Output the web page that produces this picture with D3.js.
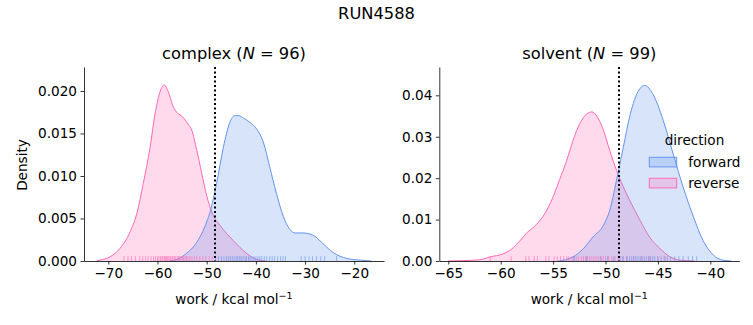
<!DOCTYPE html>
<html><head><meta charset="utf-8">
<script src="https://cdn.jsdelivr.net/npm/d3@7"></script>
<style>
body{margin:0;background:#fff;}
svg{display:block;font-family:"DejaVu Sans",sans-serif;}
</style></head>
<body><svg id="c" width="753" height="325"></svg>
<script>
// ---- data ----
const suptitle = "RUN4588";
const panels = ["complex", "solvent"];
const panelN = [96, 99];
const directions = ["forward", "reverse"];
const colors = ["cornflowerblue", "hotpink"];
const freeEnergy = [-48.37, -48.73];

const complexXTicks = [-70, -60, -50, -40, -30, -20];
const complexYTicks = [0, 0.005, 0.010, 0.015, 0.020];
const solventXTicks = [-65, -60, -55, -50, -45, -40];
const solventYTicks = [0, 0.01, 0.02, 0.03, 0.04];

const complexReverseDensity = [[-72.4,0],[-71.7,0.0001],[-69.65,0.0005],[-67.6,0.0015],[-65.6,0.0034],[-64.2,0.0056],[-62.9,0.0091],[-61.5,0.0134],[-60.5,0.0173],[-59.6,0.0197],[-58.6,0.0207],[-57.8,0.0199],[-56.9,0.0183],[-56.1,0.0175],[-55.2,0.0171],[-54.5,0.0167],[-53.8,0.0161],[-53.05,0.0154],[-52.0,0.0130],[-51.0,0.0103],[-50.0,0.0077],[-48.7,0.0054],[-47.3,0.0042],[-44.6,0.0024],[-41.9,0.0009],[-39.9,0.0002],[-38.0,0]];
const complexForwardDensity = [[-57.5,0],[-56.0,0.0002],[-54.1,0.0009],[-52.5,0.0018],[-51.4,0.0028],[-50.2,0.0043],[-49.4,0.0056],[-48.0,0.0091],[-46.6,0.0134],[-45.3,0.0163],[-44.3,0.0171],[-43.5,0.0171],[-42.5,0.0168],[-41.2,0.0163],[-39.8,0.0155],[-38.5,0.0140],[-37.2,0.0111],[-35.8,0.0079],[-34.4,0.0052],[-33.2,0.0038],[-32.0,0.0033],[-30.4,0.0033],[-29.2,0.0032],[-28.0,0.0029],[-26.3,0.0020],[-24.3,0.0010],[-21.5,0.0003],[-18.8,0.0001],[-16.5,0]];
const solventReverseDensity = [[-65.0,0],[-63.5,0.0001],[-62.0,0.0003],[-61.0,0.0010],[-59.8,0.0017],[-59.0,0.0028],[-58.2,0.0048],[-57.5,0.0068],[-56.6,0.0088],[-55.8,0.0114],[-55.0,0.0155],[-54.4,0.0195],[-53.7,0.0243],[-53.1,0.0291],[-52.45,0.0332],[-51.8,0.0355],[-51.3,0.0360],[-50.9,0.0352],[-50.2,0.0316],[-49.6,0.0267],[-48.95,0.0219],[-48.3,0.0179],[-47.7,0.0147],[-46.7,0.0098],[-45.8,0.0058],[-44.8,0.0030],[-43.9,0.0011],[-42.9,0.0002],[-41.5,0]];
const solventForwardDensity = [[-54.5,0],[-53.1,0.0010],[-52.1,0.0030],[-51.2,0.0058],[-50.2,0.0086],[-49.6,0.0122],[-48.95,0.0195],[-48.3,0.0275],[-47.7,0.0348],[-47.0,0.0404],[-46.25,0.0424],[-45.5,0.0404],[-44.5,0.0340],[-43.55,0.0259],[-42.6,0.0179],[-41.6,0.0106],[-40.7,0.0050],[-39.7,0.0014],[-38.8,0.0002],[-38.0,0]];

const complexReverseWork = [-66.8,-66.0,-65.3,-64.5,-63.6,-63.0,-62.4,-61.9,-61.3,-60.8,-60.4,-60.0,-59.7,-59.4,-59.1,-58.9,-58.6,-58.4,-58.2,-58.0,-57.8,-57.5,-57.3,-57.0,-56.8,-56.5,-56.3,-56.0,-55.7,-55.5,-55.2,-55.0,-54.7,-54.4,-54.1,-53.8,-53.4,-53.0,-52.5,-52.0,-51.4,-50.8,-50.2,-49.5,-48.8];
const complexForwardWork = [-48.2,-47.6,-47.0,-46.5,-46.0,-45.6,-45.2,-44.8,-44.4,-44.0,-43.7,-43.3,-43.0,-42.6,-42.2,-41.9,-41.5,-41.2,-40.8,-40.4,-40.0,-39.6,-39.2,-38.8,-38.3,-37.8,-37.2,-36.7,-36.2,-35.6,-35.0,-34.5,-34.0,-30.8,-30.0,-29.2,-28.5,-27.7,-26.8,-26.0,-23.6];
const solventReverseWork = [-61.0,-59.0,-57.6,-57.3,-56.8,-56.5,-55.7,-55.4,-54.9,-54.6,-54.3,-54.0,-53.7,-53.5,-53.2,-53.0,-52.8,-52.6,-52.3,-52.1,-51.9,-51.7,-51.5,-51.3,-51.1,-50.9,-50.7,-50.4,-50.2,-50.0,-49.7,-49.4,-49.1,-48.8,-48.4,-47.9,-47.3,-46.6,-45.8,-45.0,-44.3];
const solventForwardWork = [-53.0,-51.8,-50.5,-49.8,-49.2,-48.6,-48.3,-48.0,-47.7,-47.5,-47.3,-47.1,-46.9,-46.7,-46.5,-46.3,-46.1,-45.9,-45.7,-45.5,-45.3,-45.0,-44.7,-44.4,-44.1,-43.8,-43.4,-43.0,-42.6,-42.1,-41.7,-41.3];

// ---- layout ----
const svg = d3.select("#c");
const FS = 13.6, TFS = 16.3;
const plotTop = 67, plotBottom = 261;
const panelCfg = [
  {x0:84, x1:384, xdom:[-74.94,-13.96], ydom:[0,0.02282], xt:complexXTicks, yt:complexYTicks, yf:d3.format(".3f"),
   dens:[complexForwardDensity, complexReverseDensity], rug:[complexForwardWork, complexReverseWork]},
  {x0:439.3, x1:739.3, xdom:[-65.859,-37.233], ydom:[0,0.04684], xt:solventXTicks, yt:solventYTicks, yf:d3.format(".2f"),
   dens:[solventForwardDensity, solventReverseDensity], rug:[solventForwardWork, solventReverseWork]}
];

svg.append("text").attr("x",376.5).attr("y",19).attr("text-anchor","middle")
  .attr("font-size",TFS).text(suptitle);

panelCfg.forEach((p,i)=>{
  const x = d3.scaleLinear().domain(p.xdom).range([p.x0,p.x1]);
  const y = d3.scaleLinear().domain(p.ydom).range([plotBottom,plotTop]);
  const g = svg.append("g");
  const area = d3.area().x(d=>x(d[0])).y0(y(0)).y1(d=>y(d[1])).curve(d3.curveMonotoneX);
  const line = d3.line().x(d=>x(d[0])).y(d=>y(d[1])).curve(d3.curveMonotoneX);
  [1,0].forEach(k=>{
    g.append("path").attr("d",area(p.dens[k])).attr("fill",colors[k]).attr("fill-opacity",0.25).attr("stroke","none");
    g.append("path").attr("d",line(p.dens[k])).attr("fill","none").attr("stroke",colors[k]).attr("stroke-width",1);
  });
  [1,0].forEach(k=>{
    g.selectAll(null).data(p.rug[k]).enter().append("line")
      .attr("x1",d=>x(d)).attr("x2",d=>x(d)).attr("y1",y(0)).attr("y2",y(0)-4.85)
      .attr("stroke",colors[k]).attr("stroke-opacity",0.6).attr("stroke-width",1);
  });
  const fx = Math.round(x(freeEnergy[i]));
  g.append("line").attr("x1",fx).attr("x2",fx)
    .attr("y1",plotTop).attr("y2",plotBottom).attr("stroke","#000").attr("stroke-width",2)
    .attr("stroke-dasharray","2,2.5");

  const xa = g.append("g").attr("transform",`translate(0,${plotBottom})`)
    .call(d3.axisBottom(x).tickValues(p.xt).tickSize(3.5).tickSizeOuter(0).tickPadding(3.5));
  const ya = g.append("g").attr("transform",`translate(${p.x0},0)`)
    .call(d3.axisLeft(y).tickValues(p.yt).tickFormat(p.yf).tickSize(3.5).tickSizeOuter(0).tickPadding(3.5));
  [xa,ya].forEach(a=>{
    a.selectAll("text").attr("font-size",FS).attr("font-family","DejaVu Sans").attr("fill","#000");
    a.selectAll("line").attr("stroke","#000").attr("stroke-width",0.8);
    a.select(".domain").attr("stroke","#000").attr("stroke-width",0.8);
  });

  const cx = (p.x0+p.x1)/2;
  const t = g.append("text").attr("x",cx).attr("y",59).attr("text-anchor","middle").attr("font-size",TFS);
  t.append("tspan").text(panels[i]+" (");
  t.append("tspan").attr("font-style","italic").text("N");
  t.append("tspan").text(" = "+panelN[i]+")");

  const xl = g.append("text").attr("x",cx).attr("y",304).attr("text-anchor","middle").attr("font-size",FS);
  xl.append("tspan").text("work / kcal mol");
  xl.append("tspan").attr("font-size",FS*0.7).attr("dy",-5.5).text("\u22121");
});

svg.append("text").attr("transform","translate(26.5,165) rotate(-90)").attr("text-anchor","middle")
  .attr("font-size",FS).text("Density");

const lg = svg.append("g");
lg.append("text").attr("x",694.5).attr("y",145).attr("text-anchor","middle").attr("font-size",FS).text("direction");
directions.forEach((d,k)=>{
  const yy = 157.3 + k*21;
  lg.append("rect").attr("x",649.3).attr("y",yy).attr("width",27.4).attr("height",9.6)
    .attr("fill",colors[k]).attr("fill-opacity",0.25).attr("stroke",colors[k]).attr("stroke-width",1);
  lg.append("text").attr("x",688.3).attr("y",yy+9.3).attr("font-size",FS).text(d);
});
</script></body></html>
